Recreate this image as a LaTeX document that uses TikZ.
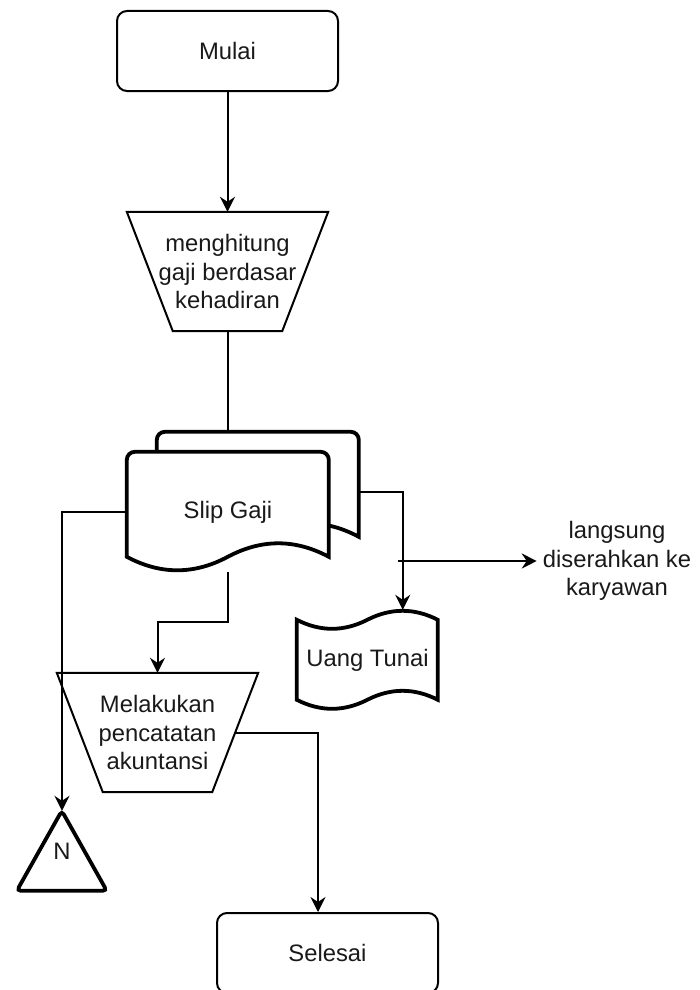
\documentclass[tikz,border=0pt]{standalone}
\usepackage{fontspec}
\setmainfont{Liberation Sans}
\usetikzlibrary{arrows.meta,calc,backgrounds}

\begin{document}
\begin{tikzpicture}[x=1pt,y=-1pt,
  every node/.style={font=\fontsize{23.8}{28.5}\selectfont, align=center, inner sep=0pt, text=black!90},
  conn/.style={line width=2pt},
  arr/.style={conn, -{Stealth[length=15pt,width=15pt,inset=5pt]}},
  thinshape/.style={line width=2pt},
  thickshape/.style={line width=3.8pt, fill=white},
  term/.style={draw, line width=2pt, rounded corners=10pt, minimum width=221pt, minimum height=80pt},
  procbox/.style={minimum width=201pt, minimum height=119pt},
  sheet/.style={minimum width=202pt, minimum height=120pt},
]
\useasboundingbox (0,0) rectangle (699,990);

% ---- nodes ----
\node[term] (mulai) at (227.5,51) {Mulai};
\node[procbox] (hitung) at (227.5,271.5) {menghitung\\gaji berdasar\\kehadiran};
\node[sheet] (slipback) at (258,492) {};
\node[sheet] (slip) at (228,512) {Slip Gaji};
\node[minimum width=141pt, minimum height=100pt] (tunai) at (367.5,660) {Uang Tunai};
\node (serah) at (617,561) {langsung\\diserahkan ke\\karyawan};
\node[procbox] (catat) at (157.5,732.5) {Melakukan\\pencatatan\\akuntansi};
\node[minimum width=90pt, minimum height=80pt] (tri) at (62,851) {N};
\node[term] (selesai) at (327.5,953) {Selesai};
\coordinate (handoff) at (398,561);

% ---- shapes drawn behind the labels ----
\begin{scope}[on background layer]
  % manual operation trapezoids
  \draw[thinshape] (hitung.north west) -- (hitung.north east)
    -- ([xshift=-46pt]hitung.south east) -- ([xshift=46pt]hitung.south west) -- cycle;
  \draw[thinshape] (catat.north west) -- (catat.north east)
    -- ([xshift=-46pt]catat.south east) -- ([xshift=46pt]catat.south west) -- cycle;
  % multi-document: back sheet, then front sheet
  \foreach \s in {slipback,slip}{
    \begin{scope}[shift={(\s.north west)}]
      \draw[thickshape] (0,105) -- (0,8) .. controls (0,3.6) and (3.6,0) .. (8,0)
        -- (194,0) .. controls (198.4,0) and (202,3.6) .. (202,8) -- (202,105)
        .. controls (168.3,87) and (134.7,87) .. (101,105)
        .. controls (67.3,123) and (33.7,123) .. (0,105) -- cycle;
    \end{scope}
  }
  % tape
  \begin{scope}[shift={(tunai.north west)}]
    \draw[thickshape] (0,10) .. controls (23.5,22) and (47,22) .. (70.5,10)
      .. controls (94,-2) and (117.5,-2) .. (141,10) -- (141,90)
      .. controls (117.5,78) and (94,78) .. (70.5,90)
      .. controls (47,102) and (23.5,102) .. (0,90) -- cycle;
  \end{scope}
  % off-page connector triangle
  \begin{scope}[shift={(tri.north west)}]
    \draw[thickshape, rounded corners=4pt] (45,0) -- (90,80) -- (0,80) -- cycle;
  \end{scope}
\end{scope}

% ---- connectors ----
\draw[arr] (mulai.south) -- (hitung.north);
\draw[conn] (hitung.south) -- (hitung.south |- slipback.north);
\draw[arr] (slipback.east) -| ([xshift=35.25pt]tunai.north);
\draw[arr] (handoff) -- ([xshift=-6pt]serah.west);
\draw[arr] (slip.south) -- ++(0,50) -| (catat.north);
\draw[arr] (slip.west) -| (tri.north);
\draw[arr] ([xshift=-22.5pt]catat.east) -| ([xshift=-9.5pt]selesai.north);
\end{tikzpicture}
\end{document}
